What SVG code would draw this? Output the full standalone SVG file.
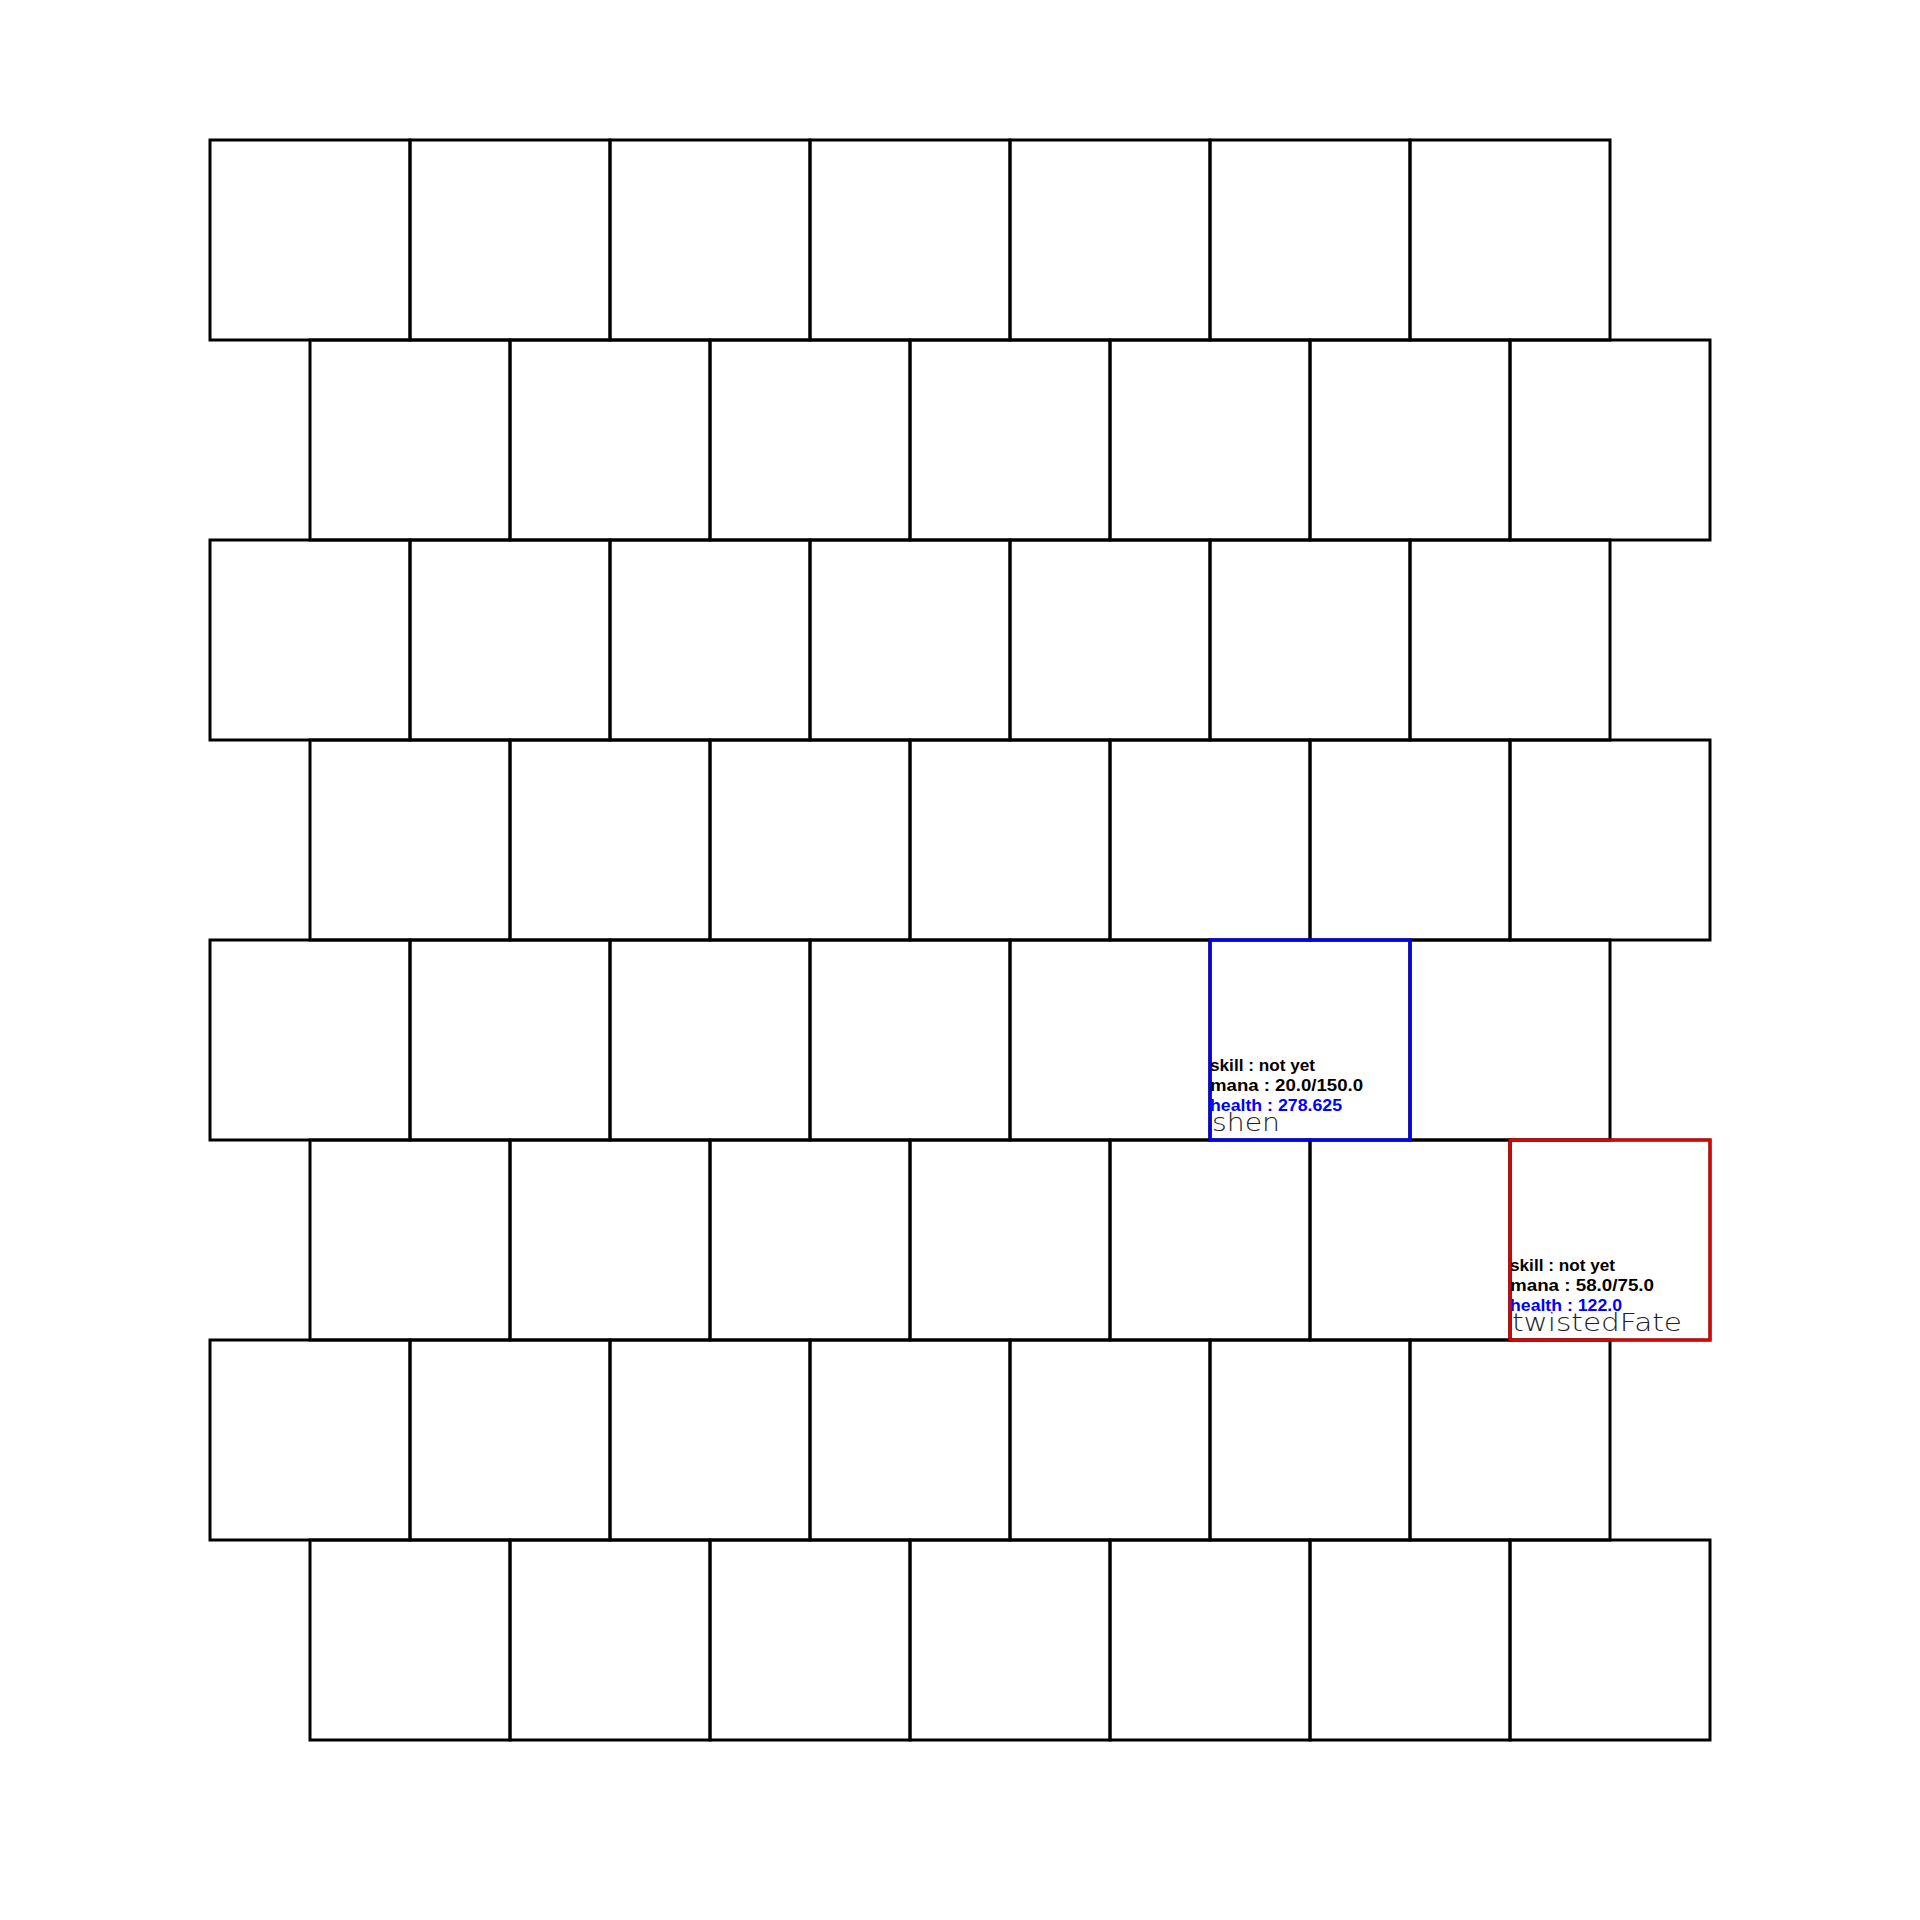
<svg xmlns="http://www.w3.org/2000/svg" width="1920" height="1920" viewBox="0 0 1920 1920">
<style>
.cell{fill:none;stroke:#000;stroke-width:3}
.blue{fill:none;stroke:#0000FF;stroke-width:3}
.red{fill:none;stroke:#E00000;stroke-width:3}
.st{font-family:"Liberation Sans",Arial,sans-serif;font-weight:bold;font-size:16px;fill:#000}
.hp{fill:#0000FF}
.nm{font-family:"DejaVu Sans",sans-serif;font-weight:200;font-size:24px;fill:#222}
</style>
<rect width="1920" height="1920" fill="#fff"/>
<g id="grid">
<g id="row0">
<rect class="cell" x="210" y="140" width="200" height="200"/><rect class="cell" x="410" y="140" width="200" height="200"/><rect class="cell" x="610" y="140" width="200" height="200"/><rect class="cell" x="810" y="140" width="200" height="200"/><rect class="cell" x="1010" y="140" width="200" height="200"/><rect class="cell" x="1210" y="140" width="200" height="200"/><rect class="cell" x="1410" y="140" width="200" height="200"/>
</g>
<g id="row1">
<rect class="cell" x="310" y="340" width="200" height="200"/><rect class="cell" x="510" y="340" width="200" height="200"/><rect class="cell" x="710" y="340" width="200" height="200"/><rect class="cell" x="910" y="340" width="200" height="200"/><rect class="cell" x="1110" y="340" width="200" height="200"/><rect class="cell" x="1310" y="340" width="200" height="200"/><rect class="cell" x="1510" y="340" width="200" height="200"/>
</g>
<g id="row2">
<rect class="cell" x="210" y="540" width="200" height="200"/><rect class="cell" x="410" y="540" width="200" height="200"/><rect class="cell" x="610" y="540" width="200" height="200"/><rect class="cell" x="810" y="540" width="200" height="200"/><rect class="cell" x="1010" y="540" width="200" height="200"/><rect class="cell" x="1210" y="540" width="200" height="200"/><rect class="cell" x="1410" y="540" width="200" height="200"/>
</g>
<g id="row3">
<rect class="cell" x="310" y="740" width="200" height="200"/><rect class="cell" x="510" y="740" width="200" height="200"/><rect class="cell" x="710" y="740" width="200" height="200"/><rect class="cell" x="910" y="740" width="200" height="200"/><rect class="cell" x="1110" y="740" width="200" height="200"/><rect class="cell" x="1310" y="740" width="200" height="200"/><rect class="cell" x="1510" y="740" width="200" height="200"/>
</g>
<g id="row4">
<rect class="cell" x="210" y="940" width="200" height="200"/><rect class="cell" x="410" y="940" width="200" height="200"/><rect class="cell" x="610" y="940" width="200" height="200"/><rect class="cell" x="810" y="940" width="200" height="200"/><rect class="cell" x="1010" y="940" width="200" height="200"/><rect class="cell" x="1210" y="940" width="200" height="200"/><rect class="cell" x="1410" y="940" width="200" height="200"/>
</g>
<g id="row5">
<rect class="cell" x="310" y="1140" width="200" height="200"/><rect class="cell" x="510" y="1140" width="200" height="200"/><rect class="cell" x="710" y="1140" width="200" height="200"/><rect class="cell" x="910" y="1140" width="200" height="200"/><rect class="cell" x="1110" y="1140" width="200" height="200"/><rect class="cell" x="1310" y="1140" width="200" height="200"/><rect class="cell" x="1510" y="1140" width="200" height="200"/>
</g>
<g id="row6">
<rect class="cell" x="210" y="1340" width="200" height="200"/><rect class="cell" x="410" y="1340" width="200" height="200"/><rect class="cell" x="610" y="1340" width="200" height="200"/><rect class="cell" x="810" y="1340" width="200" height="200"/><rect class="cell" x="1010" y="1340" width="200" height="200"/><rect class="cell" x="1210" y="1340" width="200" height="200"/><rect class="cell" x="1410" y="1340" width="200" height="200"/>
</g>
<g id="row7">
<rect class="cell" x="310" y="1540" width="200" height="200"/><rect class="cell" x="510" y="1540" width="200" height="200"/><rect class="cell" x="710" y="1540" width="200" height="200"/><rect class="cell" x="910" y="1540" width="200" height="200"/><rect class="cell" x="1110" y="1540" width="200" height="200"/><rect class="cell" x="1310" y="1540" width="200" height="200"/><rect class="cell" x="1510" y="1540" width="200" height="200"/>
</g>
</g>
<g id="connectors"></g>
<g id="shen">
<rect class="blue" x="1210" y="940" width="200" height="200"/>
<text class="st" x="1210" y="1071" textLength="105" lengthAdjust="spacingAndGlyphs">skill : not yet</text>
<text class="st" x="1210" y="1091" textLength="153" lengthAdjust="spacingAndGlyphs">mana : 20.0/150.0</text>
<text class="st hp" x="1210" y="1111" textLength="132" lengthAdjust="spacingAndGlyphs">health : 278.625</text>
<text class="nm" x="1212" y="1131" textLength="68" lengthAdjust="spacingAndGlyphs">shen</text>
</g>
<g id="twistedFate">
<rect class="red" x="1510" y="1140" width="200" height="200"/>
<text class="st" x="1510" y="1271" textLength="105" lengthAdjust="spacingAndGlyphs">skill : not yet</text>
<text class="st" x="1510" y="1291" textLength="144" lengthAdjust="spacingAndGlyphs">mana : 58.0/75.0</text>
<text class="st hp" x="1510" y="1311" textLength="112" lengthAdjust="spacingAndGlyphs">health : 122.0</text>
<text class="nm" x="1512" y="1331" textLength="170" lengthAdjust="spacingAndGlyphs">twistedFate</text>
</g>
</svg>
